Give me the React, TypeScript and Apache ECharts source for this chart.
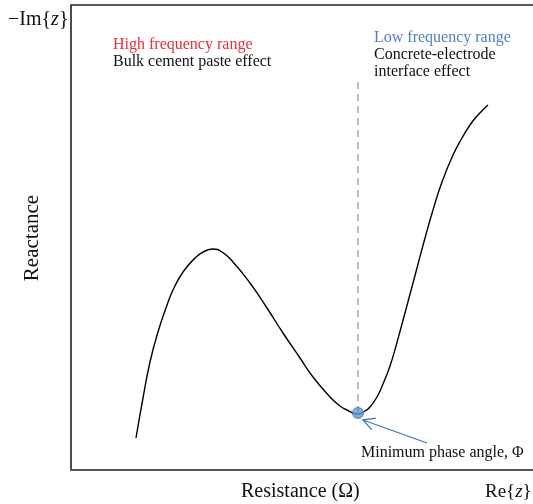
import React, { useEffect, useRef } from "react";
import * as echarts from "echarts";

// Nyquist-like curve (resistance, reactance) in arbitrary units
const resistance = [65, 72, 79, 87, 95, 102, 112, 124, 134, 142, 151, 162, 179, 196, 212, 229, 242, 259, 269, 276, 287, 294, 299, 306, 312, 319, 325, 331, 338, 346, 354, 362, 371, 382, 391, 399, 407, 417];
const reactance = [32, 72, 108, 138, 162, 180, 198, 212, 219, 221, 218, 208, 187, 162, 137, 112, 93, 73, 64, 60, 56, 59, 63, 73, 86, 104, 124, 146, 172, 202, 232, 260, 288, 315, 332, 345, 355, 365];

const minPoint = [287, 57];
const dashedTop = 390;
const arrowTail = [356, 27];
const arrowHead = [292, 50];

const SERIF = '"Liberation Serif", "DejaVu Serif", serif';

export default function App() {
  const ref = useRef<HTMLDivElement>(null);
  useEffect(() => {
    if (!ref.current) return;
    const chart = echarts.init(ref.current, null, { renderer: "svg" });
    const curve = resistance.map((x, i) => [x, reactance[i]]);
    chart.setOption({
      animation: false,
      grid: { left: 71, right: 0, top: 5, bottom: 34 },
      xAxis: {
        type: "value",
        min: 0,
        max: 462,
        axisLine: { show: true, lineStyle: { color: "#555", width: 2 } },
        axisTick: { show: false },
        axisLabel: { show: false },
        splitLine: { show: false },
      },
      yAxis: {
        type: "value",
        min: 0,
        max: 465,
        axisLine: { show: true, lineStyle: { color: "#111", width: 1.5 } },
        axisTick: { show: false },
        axisLabel: { show: false },
        splitLine: { show: false },
      },
      series: [
        {
          type: "line",
          data: [[minPoint[0], minPoint[1]], [minPoint[0], dashedTop]],
          symbol: "none",
          lineStyle: { color: "#a6a6a6", width: 1.5, type: [7, 5] },
          silent: true,
        },
        {
          type: "line",
          data: curve,
          symbol: "none",
          smooth: 0.5,
          lineStyle: { color: "#000", width: 1.4 },
          silent: true,
        },
        {
          type: "scatter",
          data: [minPoint],
          symbolSize: 11,
          itemStyle: { color: "#5b9bd5", borderColor: "#41719c", borderWidth: 1 },
          z: 5,
        },
        {
          type: "custom",
          data: [[arrowTail[0], arrowTail[1], arrowHead[0], arrowHead[1]]],
          renderItem: (params: any, api: any) => {
            const p1 = api.coord([api.value(0), api.value(1)]);
            const p2 = api.coord([api.value(2), api.value(3)]);
            const ang = Math.atan2(p1[1] - p2[1], p1[0] - p2[0]);
            const L = 13;
            const a = (28 * Math.PI) / 180;
            const q1 = [p2[0] + L * Math.cos(ang + a), p2[1] + L * Math.sin(ang + a)];
            const q2 = [p2[0] + L * Math.cos(ang - a), p2[1] + L * Math.sin(ang - a)];
            const st = { stroke: "#4472c4", lineWidth: 1.3, fill: "none" };
            return {
              type: "group",
              children: [
                { type: "line", shape: { x1: p1[0], y1: p1[1], x2: p2[0], y2: p2[1] }, style: st },
                { type: "polyline", shape: { points: [q1, p2, q2] }, style: st },
              ],
            };
          },
          z: 6,
        },
      ],
      graphic: [
        { type: "line", shape: { x1: 71, y1: 5, x2: 533, y2: 5 }, style: { stroke: "#222", lineWidth: 1.5 } },
        {
          type: "text",
          style: {
            x: 8, y: 18, text: "−Im{{i|z}}", font: `20px ${SERIF}`, fill: "#111", verticalAlign: "middle",
            rich: { i: { fontStyle: "italic", fontSize: 20, fontFamily: SERIF, fill: "#111" } },
          },
        },
        { type: "text", style: { x: 113, y: 43, text: "High frequency range", font: `16px ${SERIF}`, fill: "#ec2f3a", verticalAlign: "middle" } },
        { type: "text", style: { x: 113, y: 60, text: "Bulk cement paste effect", font: `16px ${SERIF}`, fill: "#111", verticalAlign: "middle" } },
        { type: "text", style: { x: 374, y: 36, text: "Low frequency range", font: `16px ${SERIF}`, fill: "#4f7fc9", verticalAlign: "middle" } },
        { type: "text", style: { x: 374, y: 53, text: "Concrete-electrode", font: `16px ${SERIF}`, fill: "#111", verticalAlign: "middle" } },
        { type: "text", style: { x: 374, y: 70, text: "interface effect", font: `16px ${SERIF}`, fill: "#111", verticalAlign: "middle" } },
        { type: "text", style: { x: 361, y: 451, text: "Minimum phase angle, Φ", font: `16px ${SERIF}`, fill: "#111", verticalAlign: "middle" } },
        { type: "text", style: { x: 241, y: 490, text: "Resistance (Ω)", font: `20px ${SERIF}`, fill: "#111", verticalAlign: "middle" } },
        {
          type: "text",
          style: {
            x: 485, y: 490, text: "Re{{i|z}}", font: `19px ${SERIF}`, fill: "#111", verticalAlign: "middle",
            rich: { i: { fontStyle: "italic", fontSize: 19, fontFamily: SERIF, fill: "#111" } },
          },
        },
        {
          type: "text",
          x: 31, y: 238, rotation: Math.PI / 2,
          style: { x: 0, y: 0, text: "Reactance", font: `21px ${SERIF}`, fill: "#111", align: "center", verticalAlign: "middle" },
        },
      ],
    });
    return () => chart.dispose();
  }, []);
  return <div ref={ref} style={{ position: "fixed", left: 0, top: 0, width: 533, height: 504 }} />;
}
